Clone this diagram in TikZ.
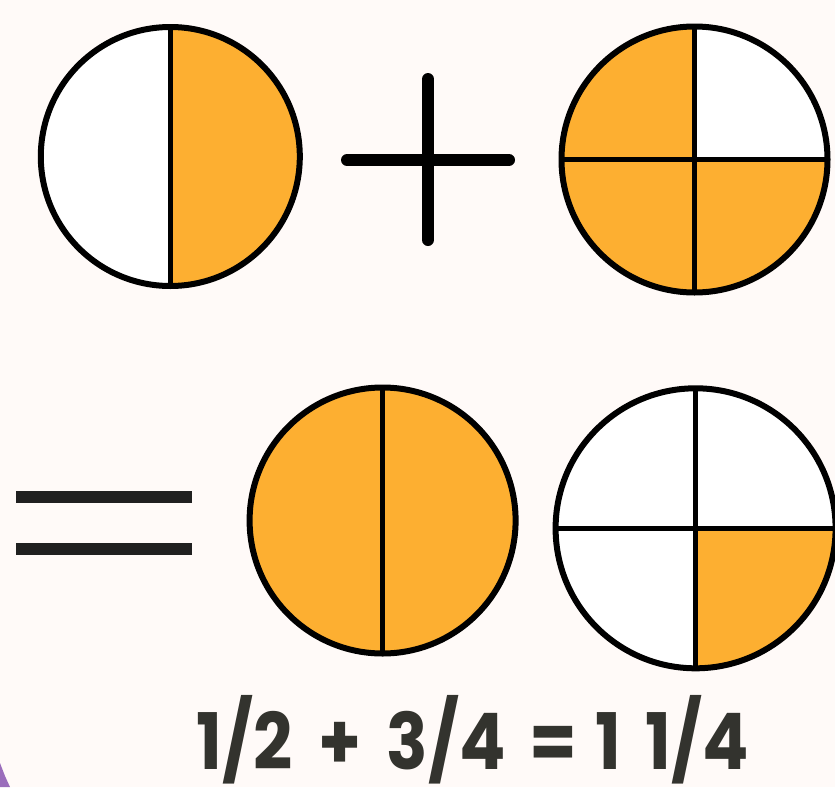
\documentclass[tikz,border=0pt]{standalone}
\usepackage{fontspec}
\newfontfamily\handfont{Poppins}
\definecolor{bg}{HTML}{FFFAF8}
\definecolor{pieorange}{HTML}{FDAF31}
\definecolor{inkgray}{HTML}{33332E}
\definecolor{eqgray}{HTML}{202020}
\definecolor{cornerpurple}{HTML}{9A6DBB}
\begin{document}
\begin{tikzpicture}[x=1pt,y=-1pt,
  pie/.style={circle, draw=black, line width=6pt, inner sep=0pt, outer sep=0pt, fill=white, minimum size=#1},
  divider/.style={line width=5pt, draw=black},
  righthalf/.style={path picture={\fill[pieorange] (path picture bounding box.north) rectangle (path picture bounding box.south east);}},
  threequarters/.style={path picture={\fill[pieorange] (path picture bounding box.north west) rectangle (path picture bounding box.south east);
      \fill[white] (path picture bounding box.center) rectangle (path picture bounding box.north east);}},
  onequarter/.style={path picture={\fill[pieorange] (path picture bounding box.center) rectangle (path picture bounding box.south east);}},
  plusbar/.style={line width=12pt, line cap=round, draw=black},
  eqbar/.style={line width=11.7pt, line cap=butt, draw=eqgray},
  handtext/.style={font=\handfont\bfseries\fontsize{78}{78}\selectfont, text=inkgray, inner sep=0pt, anchor=base, xscale=0.88}
]
\useasboundingbox (0,0) rectangle (835,787);
\fill[bg] (0,0) rectangle (835,787);
\fill[cornerpurple] (0,763) -- (5,776) -- (10,787) -- (0,787) -- cycle;

% top row
\node[pie=259pt, righthalf] (c1) at (170.3,156.5) {};
\draw[divider] (c1.north) -- (c1.south);

\coordinate (pl) at (347,160);
\coordinate (pr) at (509,160);
\coordinate (pt) at (428,79);
\coordinate (pb) at (428,240);
\draw[plusbar] (pl) -- (pr);
\draw[plusbar] (pt) -- (pb);

\node[pie=266pt, threequarters] (c2) at (694.5,159.5) {};
\draw[divider] (c2.north) -- (c2.south);
\draw[divider] (c2.west) -- (c2.east);

% bottom row
\coordinate (e1l) at (16,497);
\coordinate (e1r) at (192,497);
\coordinate (e2l) at (16,549);
\coordinate (e2r) at (192,549);
\draw[eqbar] (e1l) -- (e1r);
\draw[eqbar] (e2l) -- (e2r);

\node[pie=266pt, fill=pieorange] (c3) at (382.6,520.5) {};
\draw[divider] (c3.north) -- (c3.south);

\node[pie=280pt, onequarter] (c4) at (695.6,528.3) {};
\draw[divider] (c4.north) -- (c4.south);
\draw[divider] (c4.west) -- (c4.east);

% equation
\node[handtext] (t1) at (245,769) {1/2};
\node[handtext] (t2) at (340.5,769) {+};
\node[handtext] (t3) at (446.5,769) {3/4};
\node[handtext] (t4) at (553.5,769) {=};
\node[handtext] (t5) at (608.5,769) {1};
\node[handtext] (t6) at (697,769) {1/4};
\end{tikzpicture}
\end{document}
